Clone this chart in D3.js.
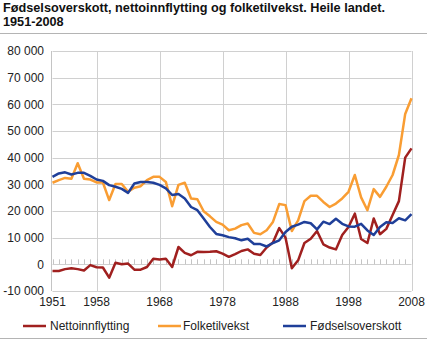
<!DOCTYPE html>
<html>
<head>
<meta charset="utf-8">
<script src="https://cdn.jsdelivr.net/npm/d3@7"></script>
<style>
  html, body { margin: 0; padding: 0; background: #fff; }
  svg { display: block; font-family: "Liberation Sans", Arial, sans-serif; }
</style>
</head>
<body>
<svg id="chart" width="427" height="341"></svg>
<script>
// Population change, Norway 1951-2008
const years = d3.range(1951, 2009);

const nettoinnflytting = [
  -2500, -2500, -1800, -1500, -1800, -2300, -300, -1100, -1200, -5000,
  600, 0, 300, -2000, -2000, -1000, 2100, 1800, 2100, -1000,
  6500, 4300, 3400, 4700, 4600, 4700, 4900, 4000, 2800, 3800,
  5000, 5600, 4000, 3500, 6300, 8200, 13600, 10000, -1500, 1500,
  8000, 9600, 12500, 7500, 6300, 5600, 11000, 14000, 19000, 9500,
  8000, 17200, 11300, 13300, 18500, 23700, 40000, 43500
];

const folketilvekst = [
  30600, 31600, 32400, 32100, 37900, 32100, 31800, 30700, 30700, 24100,
  30100, 30100, 27200, 28700, 29300, 31600, 32800, 32800, 30900, 21800,
  29800, 30600, 24700, 24400, 19900, 18000, 15900, 14900, 12800, 13400,
  14700, 15300, 11800, 11300, 12800, 15900, 22600, 22200, 12500, 16500,
  23700, 25700, 25700, 23400, 21500, 22800, 24700, 27200, 33500, 25100,
  20300, 28200, 25300, 29100, 33500, 41000, 56400, 62300
];

const fodselsoverskott = [
  32800, 34100, 34500, 33700, 34300, 34300, 33200, 31800, 31300, 29700,
  29100, 28300, 26800, 30300, 30900, 30900, 30600, 29800, 28500, 26000,
  26400, 24700, 21500, 20300, 17200, 14000, 11400, 10900, 10200, 9800,
  9000, 9600, 7600, 7600, 6700, 8000, 9000, 12100, 14100, 14900,
  15900, 15400, 13100, 16000, 15100, 17100, 15200, 14200, 14100, 15200,
  12700, 11000, 14000, 15800, 15500, 17300, 16500, 18800
];

const seriesNames = ["Nettoinnflytting", "Folketilvekst", "Fødselsoverskott"];
const seriesColors = ["#a0201f", "#f99d33", "#1f3f99"];
const seriesValues = [nettoinnflytting, folketilvekst, fodselsoverskott];

const yTicks = d3.range(-10000, 80001, 10000);
const xTickLabels = [1951, 1958, 1968, 1978, 1988, 1998, 2008];
const xGridYears = [1958, 1968, 1978, 1988, 1998, 2008];

const titleLines = [
  "Fødselsoverskott, nettoinnflytting og folketilvekst. Heile landet.",
  "1951-2008"
];

const svg = d3.select("#chart");
const W = 427, H = 341;

const x = d3.scaleLinear().domain([1951, 2008]).range([52.5, 411.5]);
const y = d3.scaleLinear().domain([-10000, 80000]).range([291, 51]);

// Title
svg.append("g").selectAll("text").data(titleLines).join("text")
  .attr("x", 3)
  .attr("y", (d, i) => 12 + i * 14)
  .attr("font-size", 12.7)
  .attr("font-weight", "bold")
  .attr("fill", "#111")
  .text(d => d);

svg.append("line")
  .attr("x1", 0).attr("x2", W)
  .attr("y1", 33.5).attr("y2", 33.5)
  .attr("stroke", "#b4b4b4").attr("stroke-width", 1.2);

// Horizontal gridlines
svg.append("g").selectAll("line").data(yTicks).join("line")
  .attr("x1", x(1951)).attr("x2", x(2008))
  .attr("y1", d => Math.round(y(d)) + 0.5)
  .attr("y2", d => Math.round(y(d)) + 0.5)
  .attr("stroke", "#d0d0d0");

// Vertical gridlines
svg.append("g").selectAll("line").data(xGridYears).join("line")
  .attr("x1", d => Math.round(x(d)) + 0.5)
  .attr("x2", d => Math.round(x(d)) + 0.5)
  .attr("y1", y(80000)).attr("y2", y(-10000))
  .attr("stroke", "#d0d0d0");

// Y axis line
svg.append("line")
  .attr("x1", 51.5).attr("x2", 51.5)
  .attr("y1", y(80000)).attr("y2", y(-10000))
  .attr("stroke", "#c4c4c4").attr("stroke-width", 1);

// Y tick labels
const fmt = v => d3.format(",")(v).replace(/,/g, " ").replace("−", "-");
svg.append("g").selectAll("text").data(yTicks).join("text")
  .attr("x", 44)
  .attr("y", d => y(d))
  .attr("dy", "0.36em")
  .attr("text-anchor", "end")
  .attr("font-size", 12)
  .attr("fill", "#222")
  .text(d => fmt(d));

// Year ticks along the zero line
svg.append("g").selectAll("line").data(years).join("line")
  .attr("x1", d => Math.round(x(d)) + 0.5)
  .attr("x2", d => Math.round(x(d)) + 0.5)
  .attr("y1", y(0) - 5).attr("y2", y(0))
  .attr("stroke", "#c4c4c4");

// X tick labels
svg.append("g").selectAll("text").data(xTickLabels).join("text")
  .attr("x", d => x(d))
  .attr("y", 306)
  .attr("text-anchor", "middle")
  .attr("font-size", 12)
  .attr("fill", "#222")
  .text(d => d);

// Series lines
const line = d3.line()
  .x((d, i) => x(years[i]))
  .y(d => y(d));

svg.append("g").selectAll("path").data(seriesValues).join("path")
  .attr("d", d => line(d))
  .attr("fill", "none")
  .attr("stroke", (d, i) => seriesColors[i])
  .attr("stroke-width", 2.5)
  .attr("stroke-linejoin", "round");

// Legend
const legendX = [23, 158, 283];
const lg = svg.append("g").selectAll("g").data(seriesNames).join("g")
  .attr("transform", (d, i) => `translate(${legendX[i]},326)`);
lg.append("line")
  .attr("x1", 0).attr("x2", 23)
  .attr("stroke", (d, i) => seriesColors[i])
  .attr("stroke-width", 2.5);
lg.append("text")
  .attr("x", (d, i) => i === 1 ? 25 : 27)
  .attr("dy", "0.35em")
  .attr("font-size", 12)
  .attr("fill", "#222")
  .text(d => d);

svg.append("line")
  .attr("x1", 0).attr("x2", W)
  .attr("y1", 338.5).attr("y2", 338.5)
  .attr("stroke", "#b4b4b4").attr("stroke-width", 1.2);
</script>
</body>
</html>
